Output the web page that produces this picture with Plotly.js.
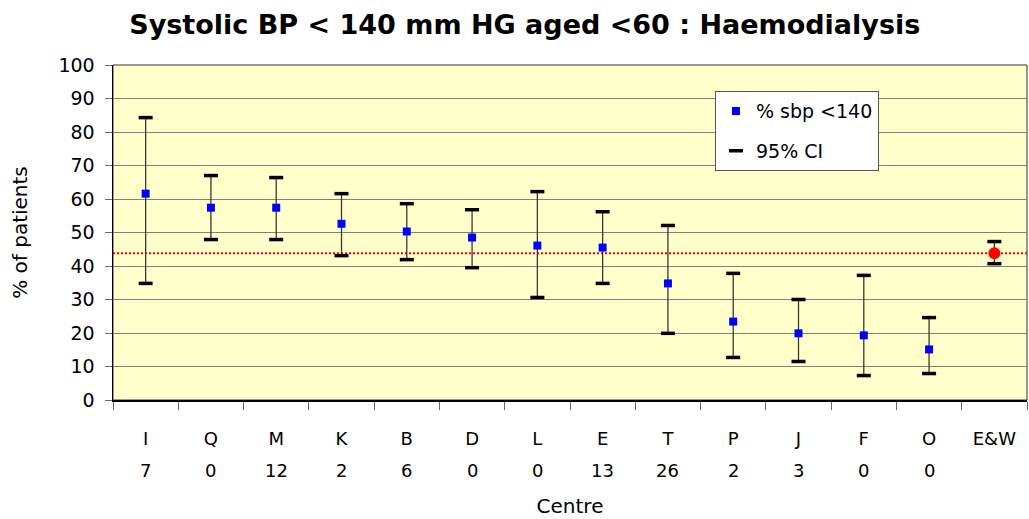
<!DOCTYPE html>
<html>
<head>
<meta charset="utf-8">
<script src="https://cdn.plot.ly/plotly-3.0.1.min.js"></script>
<style>html,body{margin:0;padding:0;background:#fff;}#chart{width:1029px;height:519px;}</style>
</head>
<body>
<div id="chart"></div>
<script>
// ---- data ----
const centres = ["I","Q","M","K","B","D","L","E","T","P","J","F","O","E&W"];
const counts  = ["7","0","12","2","6","0","0","13","26","2","3","0","0",""];
const pctSbp  = [61.6,57.4,57.4,52.6,50.3,48.5,46.1,45.5,34.8,23.4,19.9,19.3,15.1,43.8];
const ciLower = [34.8,47.9,47.9,43.1,41.9,39.5,30.6,34.8,19.9,12.7,11.5,7.3,7.9,40.7];
const ciUpper = [84.3,67.0,66.4,61.6,58.6,56.8,62.2,56.2,52.1,37.8,30.0,37.2,24.6,47.3];
const ewValue = 43.8;
const yTicks  = [0,10,20,30,40,50,60,70,80,90,100];

const n = centres.length;
const cx = centres.slice(0, n-1), ex = [centres[n-1]];
const font = "DejaVu Sans, Liberation Sans, Arial, sans-serif";

const errs = (lo, hi, v) => ({
  type: 'data', symmetric: false,
  array: hi.map((h,i)=>h - v[i]),
  arrayminus: lo.map((l,i)=>v[i] - l),
  color: '#3a3a2a', thickness: 1.3, width: 0
});

const traces = [
  {
    type: 'scatter', mode: 'markers', name: '% sbp <140',
    x: cx, y: pctSbp.slice(0,n-1),
    marker: {symbol: 'square', size: 8, color: '#0000FF'},
    error_y: errs(ciLower.slice(0,n-1), ciUpper.slice(0,n-1), pctSbp.slice(0,n-1)),
    legendgroup: 'a'
  },
  {
    type: 'scatter', mode: 'markers', name: 'E&W', showlegend: false,
    x: ex, y: pctSbp.slice(n-1),
    marker: {symbol: 'circle', size: 12, color: '#FF0000'},
    error_y: errs(ciLower.slice(n-1), ciUpper.slice(n-1), pctSbp.slice(n-1))
  },
  {
    type: 'scatter', mode: 'markers', name: '95% CI',
    x: centres.concat(centres), y: ciLower.concat(ciUpper),
    marker: {symbol: 'line-ew', size: 10, line: {color: '#000', width: 3.5}},
    legendgroup: 'b'
  }
];

const annotations = counts.map((c,i)=>({
  x: centres[i], y: -0.209, xref: 'x', yref: 'paper',
  text: c, showarrow: false, yanchor: 'middle',
  font: {family: font, size: 18, color: '#000'}
}));

const layout = {
  width: 1029, height: 519,
  margin: {l: 113, r: 2, t: 65, b: 119},
  paper_bgcolor: '#ffffff',
  plot_bgcolor: '#FFFFCC',
  showlegend: true,
  title: {
    text: '<b>Systolic BP < 140 mm HG aged <60 : Haemodialysis</b>',
    font: {family: font, size: 27, color: '#000'},
    x: 0.51, xref: 'container', xanchor: 'center',
    y: 0.952, yref: 'container', yanchor: 'middle'
  },
  xaxis: {
    type: 'category',
    categoryorder: 'array', categoryarray: centres,
    range: [-0.5, n-0.5],
    showgrid: false,
    showline: true, linecolor: '#000', linewidth: 2,
    ticks: 'outside', tickson: 'boundaries', ticklen: 8, tickcolor: '#666', tickwidth: 1,
    tickfont: {family: font, size: 18, color: '#000'},
    ticklabelstandoff: 21,
    title: {text: 'Centre', font: {family: font, size: 20, color: '#000'}, standoff: 51},
    zeroline: false, fixedrange: true
  },
  yaxis: {
    range: [0, 100],
    tickvals: yTicks,
    showgrid: true, gridcolor: '#808080', gridwidth: 1,
    showline: true, linecolor: '#000', linewidth: 1.5,
    ticks: 'outside', ticklen: 7, tickcolor: '#666',
    tickfont: {family: font, size: 19, color: '#000'},
    ticklabelstandoff: 6,
    title: {text: '% of patients', font: {family: font, size: 20, color: '#000'}, standoff: 25},
    zeroline: false, fixedrange: true
  },
  legend: {
    x: 0.6586, y: 0.922, xanchor: 'left', yanchor: 'top',
    bgcolor: '#ffffff', bordercolor: '#555', borderwidth: 1,
    font: {family: font, size: 19, color: '#000'},
    traceorder: 'grouped', tracegroupgap: 12,
    itemwidth: 30
  },
  shapes: [
    {type: 'line', xref: 'paper', x0: 0, x1: 1, yref: 'y', y0: ewValue, y1: ewValue,
     line: {color: '#FF0000', width: 2, dash: '2px,2px'}, layer: 'between'},
    {type: 'rect', xref: 'paper', yref: 'paper', x0: 0, x1: 1, y0: 0, y1: 1,
     line: {color: '#333', width: 1}, layer: 'between'}
  ],
  annotations: annotations
};

Plotly.newPlot('chart', traces, layout, {displayModeBar: false, staticPlot: true});
</script>
</body>
</html>
